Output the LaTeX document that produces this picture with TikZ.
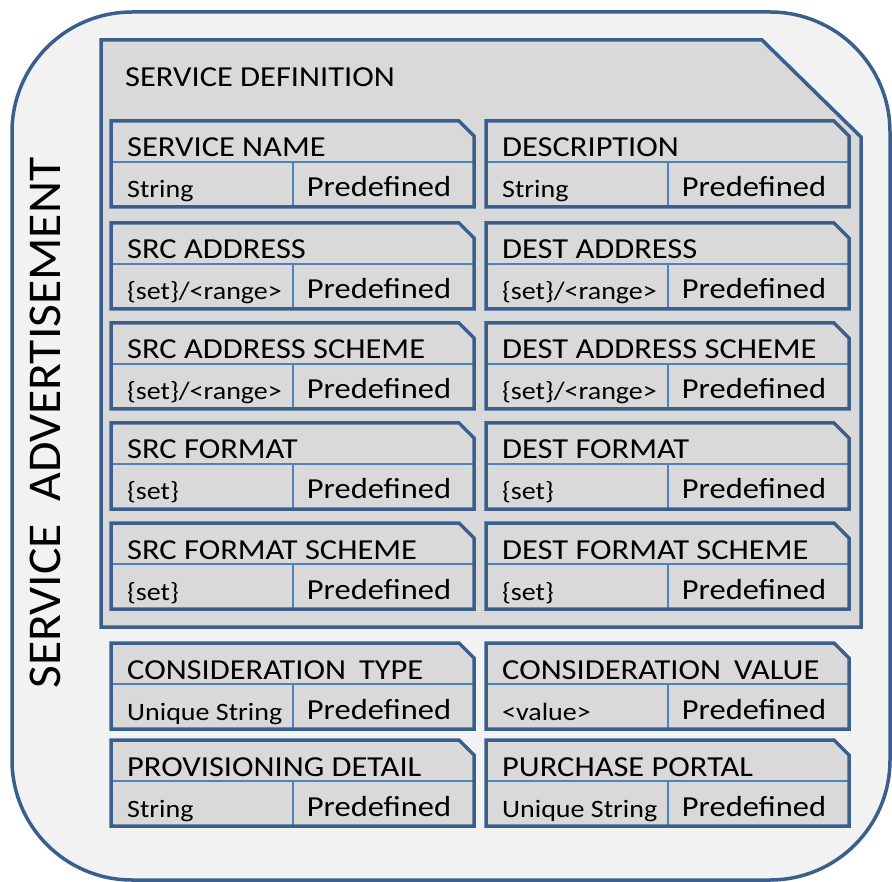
\documentclass[tikz,border=0pt]{standalone}
\usepackage{fontspec}
\setmainfont{Carlito}[FakeStretch=1.12]
\newfontfamily\sidefont{Carlito}[FakeStretch=1.055]
\definecolor{pagegray}{HTML}{F2F2F2}
\definecolor{boxgray}{HTML}{D9D9D9}
\definecolor{edgeblue}{HTML}{3B5F8D}
\definecolor{lineblue}{HTML}{4F81BD}
\tikzset{
  edge/.style={draw=edgeblue, line width=3.5pt, line join=miter},
  thinrule/.style={draw=lineblue, line width=1.4pt},
  headtext/.style={inner sep=0pt, anchor=base west, font=\fontsize{29}{30}\selectfont},
  valtext/.style={inner sep=0pt, anchor=base west, font=\fontsize{25}{26}\selectfont},
  predtext/.style={inner sep=0pt, anchor=base, font=\fontsize{29}{30}\selectfont},
}
% one field card: name, left x, top y, header, value type
\newcommand\fieldcard[5]{%
  \begin{scope}[shift={(#2,#3)}]
    \fill[boxgray] (0,0) -- (348,0) -- (363,15) -- (363,86) -- (0,86) -- cycle;
    \draw[thinrule] (0,41) -- (363,41) (182,41) -- (182,86);
    \draw[edge] (0,0) -- (348,0) -- (363,15) -- (363,86) -- (0,86) -- cycle;
    \node[headtext] (#1-head) at (16,36) {#4};
    \node[valtext] (#1-type) at (16,77) {#5};
    \node[predtext] (#1-src) at (268,76) {Predefined};
  \end{scope}}
\begin{document}
\begin{tikzpicture}[x=1pt, y=-1pt]
  \useasboundingbox (0,0) rectangle (892,882);
  % outer advertisement frame
  \draw[edge, fill=pagegray, rounded corners=120pt] (12,12) rectangle (890,880);
  \node[inner sep=0pt, rotate=90, font=\sidefont\fontsize{47}{48}\selectfont]
    (adv) at (45,423) {SERVICE\ \ ADVERTISEMENT};
  % service definition panel
  \draw[edge, fill=boxgray] (101,40) -- (762,40) -- (861,137) -- (861,627) -- (101,627) -- cycle;
  \node[headtext] (def) at (125,87) {SERVICE DEFINITION};
  % field cards
  \fieldcard{sname}{111}{121}{SERVICE NAME}{String}
  \fieldcard{desc}{486}{121}{DESCRIPTION}{String}
  \fieldcard{saddr}{111}{223}{SRC ADDRESS}{\{set\}/<range>}
  \fieldcard{daddr}{486}{223}{DEST ADDRESS}{\{set\}/<range>}
  \fieldcard{sasch}{111}{323}{SRC ADDRESS SCHEME}{\{set\}/<range>}
  \fieldcard{dasch}{486}{323}{DEST ADDRESS SCHEME}{\{set\}/<range>}
  \fieldcard{sfmt}{111}{423}{SRC FORMAT}{\{set\}}
  \fieldcard{dfmt}{486}{423}{DEST FORMAT}{\{set\}}
  \fieldcard{sfsch}{111}{523}{SRC FORMAT SCHEME}{\{set\}}
  \fieldcard{dfsch}{486}{523}{DEST FORMAT SCHEME}{\{set\}}
  \fieldcard{ctype}{111}{643}{CONSIDERATION\hspace{0.45em}TYPE}{Unique String}
  \fieldcard{cval}{486}{643}{CONSIDERATION\hspace{0.45em}VALUE}{<value>}
  \fieldcard{prov}{111}{740}{PROVISIONING DETAIL}{String}
  \fieldcard{portal}{486}{740}{PURCHASE PORTAL}{Unique String}
\end{tikzpicture}
\end{document}
